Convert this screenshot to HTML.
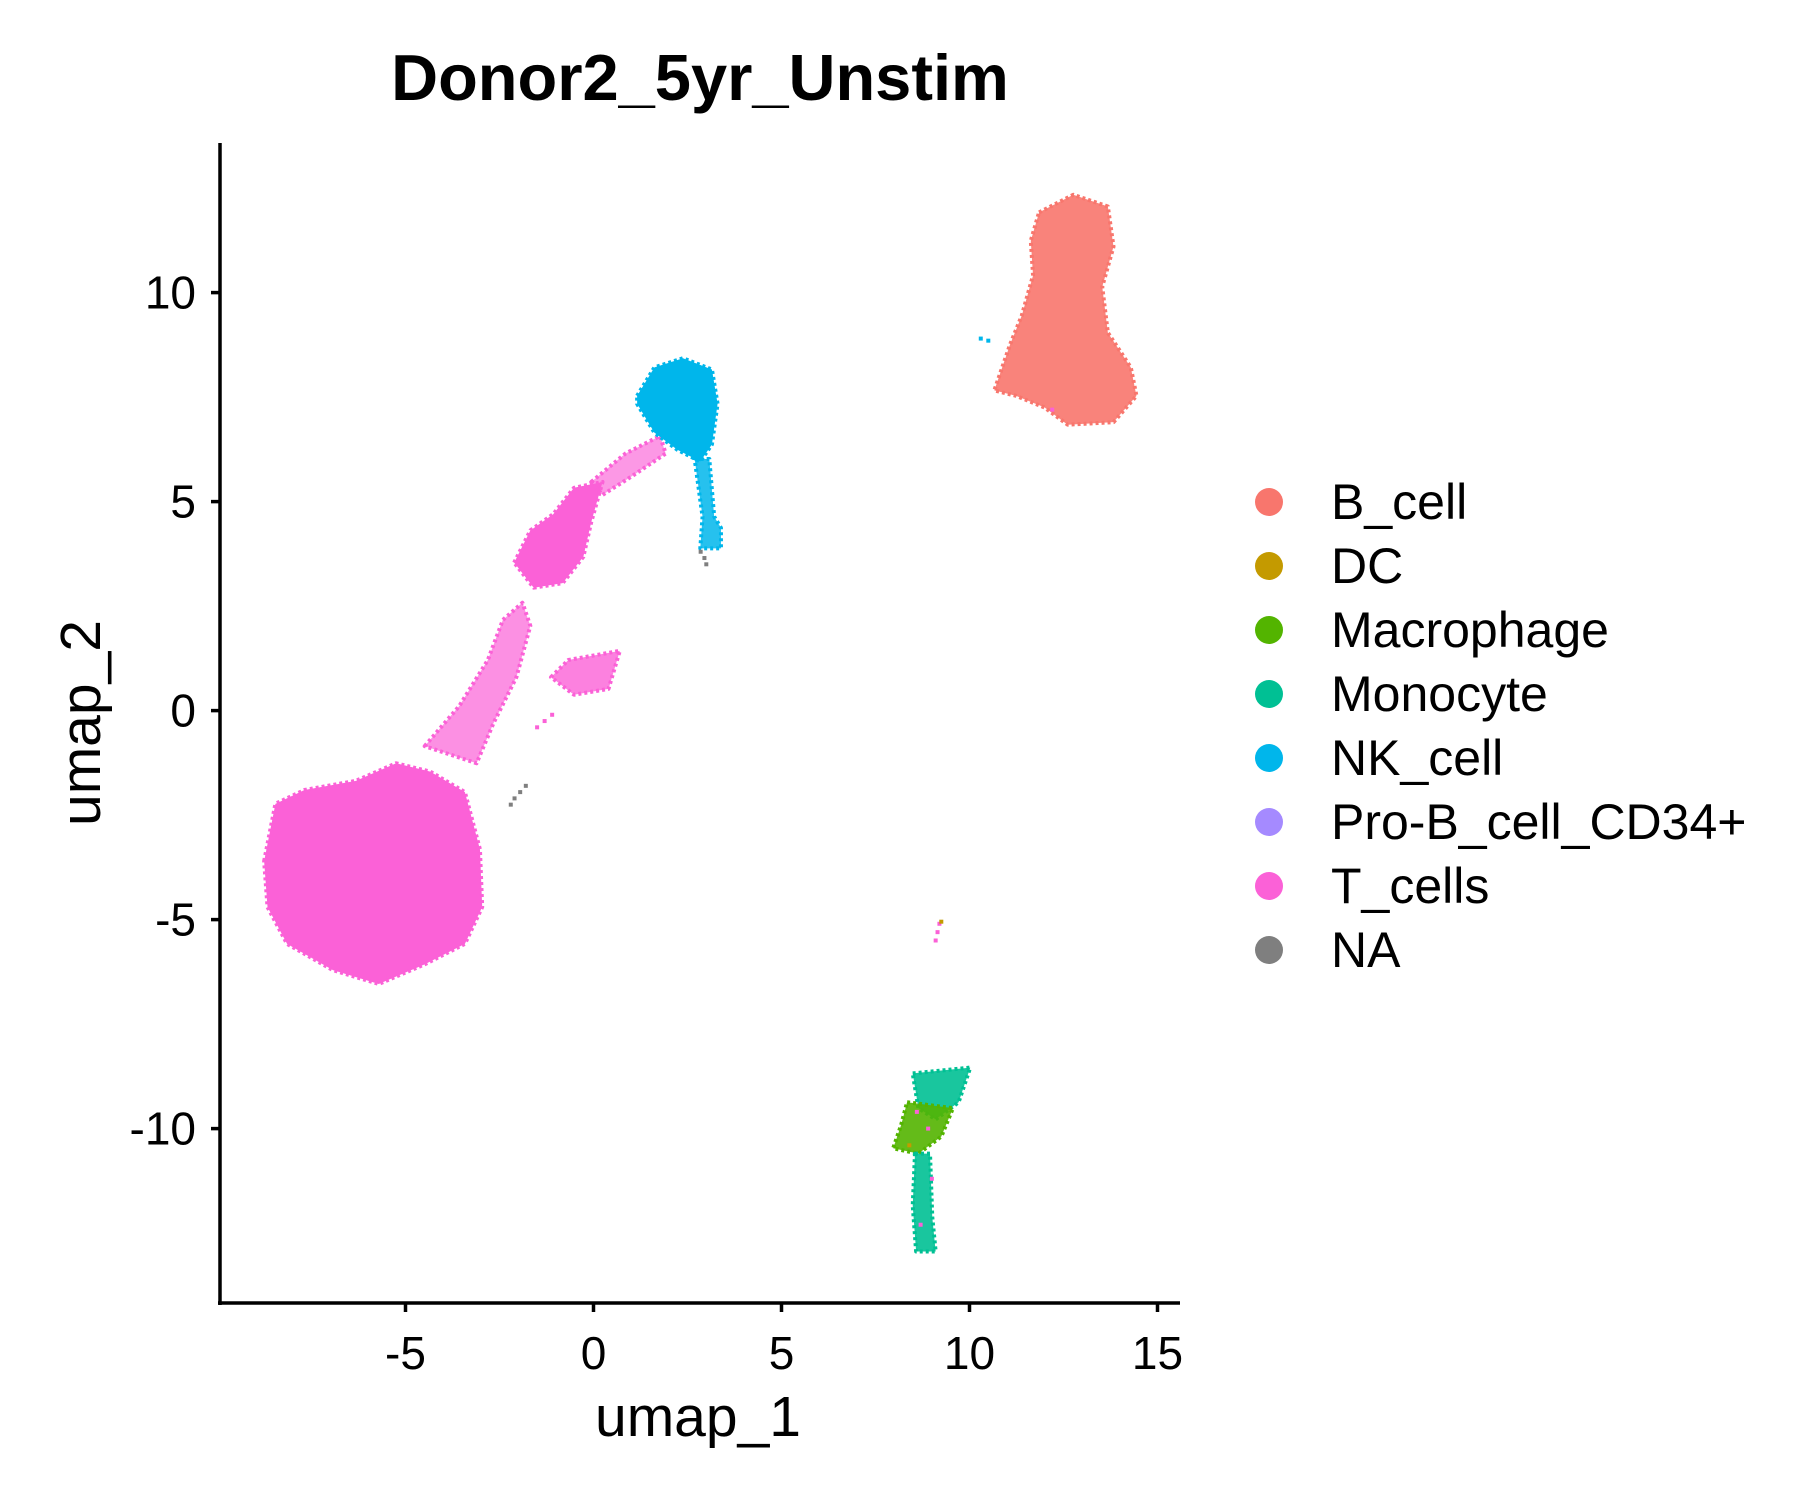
<!DOCTYPE html>
<html><head><meta charset="utf-8"><style>
html,body{margin:0;padding:0;background:#fff}
svg{display:block;font-family:"Liberation Sans",Arial,sans-serif}
</style></head><body>
<svg id="chart" width="1800" height="1500" viewBox="0 0 1800 1500" xmlns="http://www.w3.org/2000/svg">
<text x="700" y="100" font-size="65" font-weight="bold" text-anchor="middle">Donor2_5yr_Unstim</text>
<g id="marks"></g>
<line x1="220" y1="143" x2="220" y2="1305" stroke="#000" stroke-width="3.5"/>
<line x1="218" y1="1303" x2="1180" y2="1303" stroke="#000" stroke-width="3.5"/>
<g id="xticks"></g>
<g id="yticks"></g>
<text x="698" y="1436" font-size="57" text-anchor="middle">umap_1</text>
<text transform="translate(100,723) rotate(-90)" font-size="57" text-anchor="middle">umap_2</text>
<g id="legend"></g>
</svg>
<script>
const categories = ["B_cell","DC","Macrophage","Monocyte","NK_cell","Pro-B_cell_CD34+","T_cells","NA"];
const colors = ["#F8766D","#C49A00","#53B400","#00C094","#00B6EB","#A58AFF","#FB61D7","#7F7F7F"];
const xTicks = [-5,0,5,10,15];
const yTicks = [-10,-5,0,5,10];
// cluster regions (umap coordinates), category index + vertices
const tBlob = [[-8.76,-3.6],[-8.46,-2.23],[-7.69,-1.9],[-6.32,-1.68],[-5.25,-1.26],[-4.34,-1.46],[-3.42,-1.95],[-3.02,-3.32],[-2.96,-4.7],[-3.42,-5.58],[-4.49,-6.07],[-5.71,-6.54],[-6.93,-6.21],[-8.15,-5.58],[-8.67,-4.7]];
const tStalk = [[-4.49,-0.85],[-3.57,0.11],[-2.81,1.21],[-2.41,2.17],[-1.89,2.58],[-1.68,2.03],[-2.05,0.8],[-2.66,-0.3],[-3.11,-1.26]];
const tUpper = [[-2.11,3.54],[-1.68,4.31],[-1.07,4.7],[-0.52,5.33],[0.24,5.47],[-0.06,4.51],[-0.27,3.68],[-0.82,3.05],[-1.59,2.94]];
const tBranch = [[-1.13,0.8],[-0.67,1.21],[0.7,1.43],[0.4,0.52],[-0.52,0.38]];
const tConnector = [[-0.06,5.47],[0.85,6.15],[1.77,6.57],[1.92,6.15],[1.01,5.6],[0.24,5.16]];
const nkBlob = [[1.16,7.53],[1.62,8.21],[2.38,8.43],[3.15,8.16],[3.3,7.34],[3.15,6.37],[2.84,5.96],[2.23,6.24],[1.62,6.65],[1.16,7.34]];
const nkTail = [[2.69,6.02],[3.08,6.02],[3.21,4.64],[3.39,4.37],[3.39,3.88],[2.84,3.88],[2.9,4.64]];
const bBlob = [[11.85,11.92],[12.76,12.34],[13.68,12.06],[13.83,11.1],[13.53,10.14],[13.68,9.04],[14.29,8.21],[14.44,7.53],[13.83,6.9],[12.61,6.84],[12.0,7.25],[11.24,7.53],[10.66,7.66],[11.08,8.76],[11.39,9.45],[11.69,10.41],[11.63,11.24]];
const monoTop = [[8.49,-8.68],[10.02,-8.54],[9.71,-9.37],[9.1,-9.78],[8.64,-9.51]];
const macroMid = [[8.34,-9.37],[9.56,-9.51],[9.25,-10.19],[8.64,-10.6],[7.97,-10.47],[8.18,-9.92]];
const monoStalk = [[8.55,-10.6],[8.95,-10.6],[9.01,-12.12],[9.1,-12.94],[8.58,-12.94],[8.49,-11.84]];
const regionCats = [6,6,6,6,6,4,4,0,3,2,3];
const regionOpacity = [1,0.7,1,0.8,0.65,1,0.85,0.9,0.9,0.9,0.9];
const regions = [tBlob,tStalk,tUpper,tBranch,tConnector,nkBlob,nkTail,bBlob,monoTop,macroMid,monoStalk];
// individual points
const ptX = [-1.8,-1.95,-2.1,-2.2,2.85,2.95,3.0,9.2,9.15,9.1,9.25,-1.5,-1.3,-1.1,10.3,10.5,12.2,8.6,8.9,8.4,9.0,8.7];
const ptY = [-1.8,-1.95,-2.1,-2.25,3.8,3.65,3.5,-5.1,-5.3,-5.5,-5.05,-0.4,-0.25,-0.1,8.9,8.85,7.2,-9.6,-10.0,-10.4,-11.2,-12.3];
const ptCat = [7,7,7,7,7,7,7,6,6,6,1,6,6,6,4,4,6,6,6,1,6,6];

const NS="http://www.w3.org/2000/svg";
function sx(v){return 593.5+v*37.6;}
function sy(v){return 710.6-v*41.8;}
const marks=document.getElementById('marks');
regions.forEach((r,i)=>{
  const p=document.createElementNS(NS,'polygon');
  
  
  p.setAttribute('points',r.map(d=>sx(d[0])+','+sy(d[1])).join(' '));
  p.setAttribute('fill',colors[regionCats[i]]);
  p.setAttribute('fill-opacity',regionOpacity[i]);
  p.setAttribute('stroke',colors[regionCats[i]]);
  p.setAttribute('stroke-width','4');
  p.setAttribute('stroke-dasharray','3 3');
  p.setAttribute('stroke-linejoin','round');
  marks.appendChild(p);
});
ptX.forEach((x,i)=>{
  const c=document.createElementNS(NS,'rect');
  
  
  c.setAttribute('x',sx(x)-2);c.setAttribute('y',sy(ptY[i])-2);
  c.setAttribute('width',4);c.setAttribute('height',4);
  c.setAttribute('fill',colors[ptCat[i]]);
  marks.appendChild(c);
});
const xt=document.getElementById('xticks');
xTicks.forEach(v=>{
  const l=document.createElementNS(NS,'line');
  
  
  l.setAttribute('x1',sx(v));l.setAttribute('x2',sx(v));l.setAttribute('y1',1303);l.setAttribute('y2',1312);
  l.setAttribute('stroke','#000');l.setAttribute('stroke-width','3.5');xt.appendChild(l);
  const t=document.createElementNS(NS,'text');
  
  
  t.setAttribute('x',sx(v));t.setAttribute('y',1369);t.setAttribute('font-size','46');t.setAttribute('text-anchor','middle');
  t.textContent=v;xt.appendChild(t);
});
const yt=document.getElementById('yticks');
yTicks.forEach(v=>{
  const l=document.createElementNS(NS,'line');
  
  
  l.setAttribute('x1',211);l.setAttribute('x2',220);l.setAttribute('y1',sy(v));l.setAttribute('y2',sy(v));
  l.setAttribute('stroke','#000');l.setAttribute('stroke-width','3.5');yt.appendChild(l);
  const t=document.createElementNS(NS,'text');
  
  
  t.setAttribute('x',196);t.setAttribute('y',sy(v)+16);t.setAttribute('font-size','46');t.setAttribute('text-anchor','end');
  t.textContent=v;yt.appendChild(t);
});
const lg=document.getElementById('legend');
categories.forEach((c,i)=>{
  const y=502+i*64;
  const k=document.createElementNS(NS,'circle');
  
  
  k.setAttribute('cx',1269);k.setAttribute('cy',y);k.setAttribute('r',14);k.setAttribute('fill',colors[i]);lg.appendChild(k);
  const t=document.createElementNS(NS,'text');
  
  
  t.setAttribute('x',1331);t.setAttribute('y',y+17);t.setAttribute('font-size','50');
  t.textContent=c;lg.appendChild(t);
});
</script>
</body></html>
